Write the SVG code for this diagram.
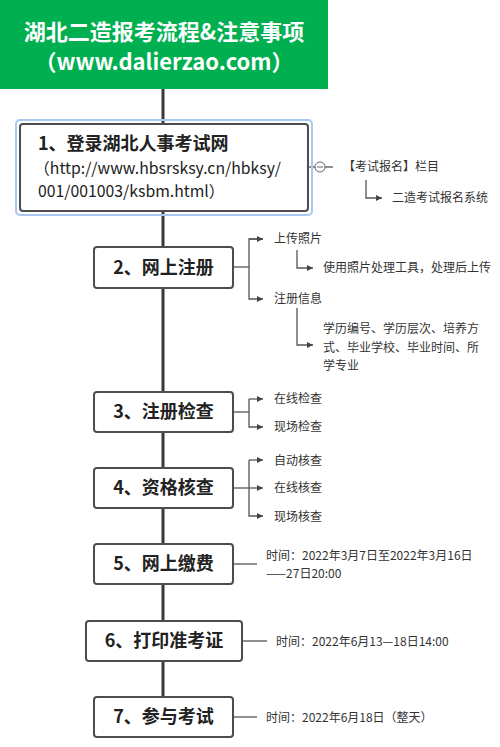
<svg xmlns="http://www.w3.org/2000/svg" width="500" height="747" viewBox="0 0 500 747">
<style>
.hdr{font-family:"Noto Sans CJK SC","Liberation Sans",sans-serif;font-weight:bold;fill:#fff;font-size:22px}
.box{fill:#fff;stroke:#4d4d4d;stroke-width:2}
.lbl{font-family:"Noto Sans CJK SC","Liberation Sans",sans-serif;font-weight:bold;fill:#222;font-size:18px}
.url{font-family:"Noto Sans CJK SC","Liberation Sans",sans-serif;fill:#222;font-size:15.8px}
.sm{font-family:"Noto Sans CJK SC","Liberation Sans",sans-serif;fill:#333;font-size:12px}
.spine{stroke:#3a3a3a;stroke-width:3;fill:none}
.con{stroke:#555;stroke-width:1.3;fill:none}
</style>
<defs>
<marker id="ah" viewBox="0 0 6 6" refX="6" refY="3" markerWidth="6" markerHeight="6" markerUnits="userSpaceOnUse" orient="auto">
<path d="M0,0 L6,3 L0,6 Z" fill="#444"/>
</marker>
</defs>
<rect width="500" height="747" fill="#fff"/>
<g id="connectors">
<line class="spine" x1="163" y1="89" x2="163" y2="697"/>
<line class="con" x1="308" y1="167" x2="315" y2="167"/>
<circle cx="320" cy="167" r="5" fill="#fff" stroke="#666" stroke-width="1"/>
<line x1="317" y1="167" x2="323" y2="167" stroke="#666" stroke-width="1"/>
<line class="con" x1="325" y1="167" x2="333" y2="167"/>
<path class="con" d="M366,180 V198 H382" marker-end="url(#ah)"/>
<path class="con" d="M233,267 H249"/>
<path class="con" d="M263,239 H249 V299 H263" marker-end="url(#ah)"/>
<path class="con" d="M249,239 H263" marker-end="url(#ah)"/>
<path class="con" d="M297,250 V268 H313" marker-end="url(#ah)"/>
<path class="con" d="M297,308 V345 H313" marker-end="url(#ah)"/>
<path class="con" d="M233,412 H249"/>
<path class="con" d="M249,399 H263" marker-end="url(#ah)"/>
<path class="con" d="M249,399 V427 H263" marker-end="url(#ah)"/>
<path class="con" d="M233,488 H263" marker-end="url(#ah)"/>
<path class="con" d="M249,460 H263" marker-end="url(#ah)"/>
<path class="con" d="M249,460 V516 H263" marker-end="url(#ah)"/>
<line class="con" x1="233" y1="564" x2="257" y2="564"/>
<line class="con" x1="242" y1="641" x2="267" y2="641"/>
<line class="con" x1="233" y1="717" x2="257" y2="717"/>
</g>
<g id="header">
<rect x="0" y="0" width="328" height="89" fill="#00b050"/>
<text class="hdr" x="164" y="40" text-anchor="middle">湖北二造报考流程&amp;注意事项</text>
<text class="hdr" x="164" y="70" text-anchor="middle">（www.dalierzao.com）</text>
</g>
<g id="node1">
<rect x="16" y="120" width="296" height="95" rx="4" fill="none" stroke="#a9c8ef" stroke-width="2"/>
<rect class="box" x="20" y="124" width="288" height="87" rx="3"/>
<text class="lbl" x="38" y="150">1、登录湖北人事考试网</text>
<text class="url" x="34" y="174">（http://www.hbsrsksy.cn/hbksy/</text>
<text class="url" x="38" y="197">001/001003/ksbm.html）</text>
</g>
<g id="n1a"><text class="sm" x="343" y="171">【考试报名】栏目</text></g>
<g id="n1b"><text class="sm" x="392" y="202">二造考试报名系统</text></g>
<g id="node2">
<rect class="box" x="94" y="247" width="139" height="41" rx="3"/>
<text class="lbl" x="163.5" y="274" text-anchor="middle">2、网上注册</text>
</g>
<g id="n2a"><text class="sm" x="274" y="243">上传照片</text></g>
<g id="n2b"><text class="sm" x="323" y="272">使用照片处理工具，处理后上传</text></g>
<g id="n2c"><text class="sm" x="274" y="303">注册信息</text></g>
<g id="n2d">
<text class="sm" x="323" y="333">学历编号、学历层次、培养方</text>
<text class="sm" x="323" y="352">式、毕业学校、毕业时间、所</text>
<text class="sm" x="323" y="370">学专业</text>
</g>
<g id="node3">
<rect class="box" x="94" y="392" width="139" height="40" rx="3"/>
<text class="lbl" x="163.5" y="418" text-anchor="middle">3、注册检查</text>
</g>
<g id="n3a"><text class="sm" x="274" y="403">在线检查</text></g>
<g id="n3b"><text class="sm" x="274" y="431">现场检查</text></g>
<g id="node4">
<rect class="box" x="94" y="468" width="139" height="40" rx="3"/>
<text class="lbl" x="163.5" y="494" text-anchor="middle">4、资格核查</text>
</g>
<g id="n4a"><text class="sm" x="274" y="465">自动核查</text></g>
<g id="n4b"><text class="sm" x="274" y="492">在线核查</text></g>
<g id="n4c"><text class="sm" x="274" y="521">现场核查</text></g>
<g id="node5">
<rect class="box" x="94" y="544" width="139" height="40" rx="3"/>
<text class="lbl" x="163.5" y="570" text-anchor="middle">5、网上缴费</text>
</g>
<g id="n5a">
<text class="sm" x="266" y="560">时间：2022年3月7日至2022年3月16日</text>
<text class="sm" x="266" y="578">——27日20:00</text>
</g>
<g id="node6">
<rect class="box" x="86" y="621" width="156" height="40" rx="3"/>
<text class="lbl" x="164" y="647" text-anchor="middle">6、打印准考证</text>
</g>
<g id="n6a"><text class="sm" x="276" y="646">时间：2022年6月13—18日14:00</text></g>
<g id="node7">
<rect class="box" x="94" y="697" width="139" height="40" rx="3"/>
<text class="lbl" x="163.5" y="723" text-anchor="middle">7、参与考试</text>
</g>
<g id="n7a"><text class="sm" x="266" y="722">时间：2022年6月18日（整天）</text></g>
</svg>
